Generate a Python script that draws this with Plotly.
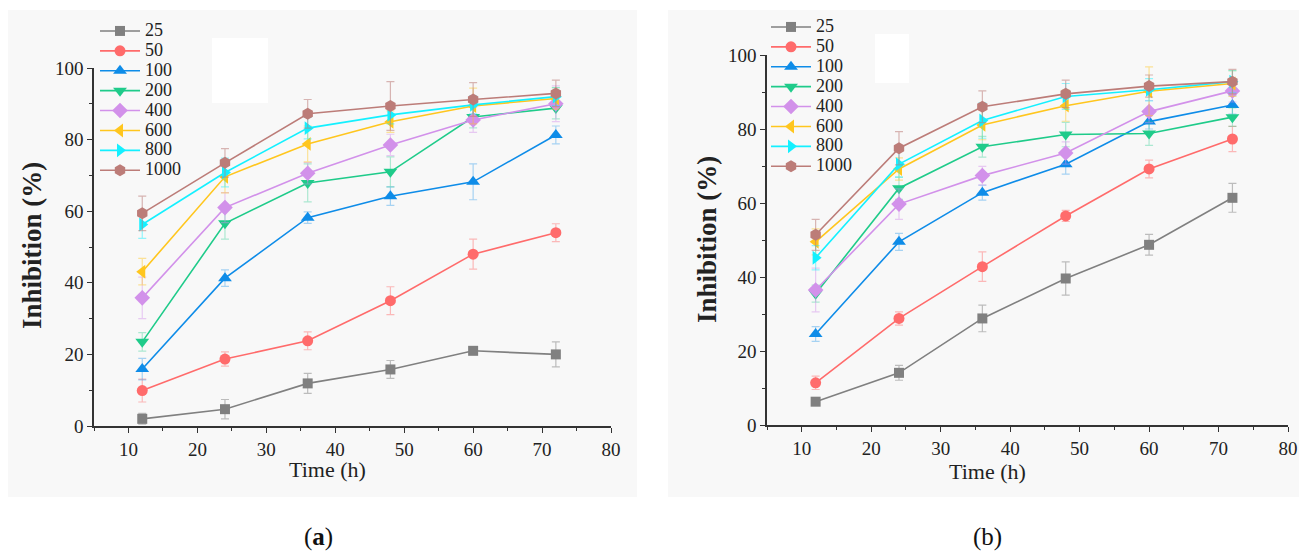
import plotly.graph_objects as go

# ---------------- data ----------------
time_h = [12, 24, 36, 48, 60, 72]
series_names = ["25", "50", "100", "200", "400", "600", "800", "1000"]

# panel (a)
a_25 = [2, 4.7, 11.9, 15.8, 21, 20]
a_50 = [9.9, 18.7, 23.8, 35, 48, 54]
a_100 = [15.9, 41.3, 58.2, 64.2, 68.2, 81.3]
a_200 = [23.5, 56.6, 67.9, 71, 86.3, 88.8]
a_400 = [35.8, 61, 70.6, 78.5, 85.5, 90]
a_600 = [43.1, 69.6, 78.8, 85, 89.4, 91.5]
a_800 = [56.3, 70.8, 83.2, 86.9, 89.7, 92]
a_1000 = [59.4, 73.5, 87.2, 89.4, 91.2, 92.9]

a_25_err = [1.5, 2.7, 2.8, 2.5, 1, 3.5]
a_50_err = [3.2, 2, 2.5, 3.9, 4.2, 2.5]
a_100_err = [3, 2.3, 1.6, 2.6, 5, 2.5]
a_200_err = [2.6, 4.4, 5.3, 4.2, 3, 3]
a_400_err = [5.8, 4.2, 3, 3, 3.5, 5]
a_600_err = [3.7, 4.5, 5, 3, 5, 3]
a_800_err = [3.9, 4, 3, 2.5, 2.5, 2.5]
a_1000_err = [4.8, 4, 4, 6.8, 4.7, 3.7]

# panel (b)
b_25 = [6.3, 14.1, 28.8, 39.6, 48.7, 61.4]
b_50 = [11.4, 28.8, 42.8, 56.5, 69.2, 77.3]
b_100 = [24.6, 49.5, 62.8, 70.5, 82, 86.5]
b_200 = [35.5, 64, 75.2, 78.5, 78.8, 83.2]
b_400 = [36.5, 59.7, 67.4, 73.5, 84.7, 90.3]
b_600 = [49.5, 69.2, 81.1, 86.3, 90.2, 92.3]
b_800 = [45.2, 70.5, 82.3, 88.8, 90.6, 92.8]
b_1000 = [51.4, 74.8, 86, 89.5, 91.6, 92.8]

b_25_err = [1, 2, 3.6, 4.5, 2.8, 3.9]
b_50_err = [1.8, 1.8, 4, 1.5, 2.4, 3.4]
b_100_err = [2, 2.3, 2, 2.7, 2, 2.5]
b_200_err = [2.3, 3, 2.8, 3.3, 3.2, 2.5]
b_400_err = [5.9, 4.1, 2.5, 3, 3, 3]
b_600_err = [3.5, 3, 4, 4.2, 6.6, 3.5]
b_800_err = [3.3, 3.5, 4.8, 3.5, 3, 3]
b_1000_err = [4.2, 4.5, 4.3, 3.7, 3, 3.3]

x_ticks = [10, 20, 30, 40, 50, 60, 70, 80]
y_ticks = [0, 20, 40, 60, 80, 100]

# ---------------- styles ----------------
colors = ["#808080", "#FF6B6B", "#0E8CE8", "#1FCB8A", "#D291EA",
          "#FFC61E", "#14F0FF", "#BC7C78"]
err_colors = ["rgba(128,128,128,0.5)", "rgba(255,107,107,0.45)",
              "rgba(14,140,232,0.35)", "rgba(31,203,138,0.35)",
              "rgba(210,145,234,0.45)", "rgba(255,198,30,0.45)",
              "rgba(20,240,255,0.45)", "rgba(188,124,120,0.55)"]
symbols = ["square", "circle", "triangle-up", "triangle-down", "diamond",
           "triangle-left", "triangle-right", "hexagon"]
sizes = [10, 11, 12, 12, 12, 12, 12, 12]

# page body has an 8px margin: figure sits at (8, 8)
OFF = 8
W, H = 1307 - OFF, 553 - OFF
SERIF = "'Liberation Serif', 'Times New Roman', Times, serif"


def px(x):
    return (x - OFF) / W


def py(y):
    return 1 - (y - OFF) / H


panel_a = [a_25, a_50, a_100, a_200, a_400, a_600, a_800, a_1000]
panel_a_err = [a_25_err, a_50_err, a_100_err, a_200_err, a_400_err,
               a_600_err, a_800_err, a_1000_err]
panel_b = [b_25, b_50, b_100, b_200, b_400, b_600, b_800, b_1000]
panel_b_err = [b_25_err, b_50_err, b_100_err, b_200_err, b_400_err,
               b_600_err, b_800_err, b_1000_err]

fig = go.Figure()

for panel, errs, xa, ya, lg in [(panel_a, panel_a_err, "x", "y", "legend"),
                                (panel_b, panel_b_err, "x2", "y2", "legend2")]:
    for i, name in enumerate(series_names):
        fig.add_trace(go.Scatter(
            x=time_h, y=panel[i], xaxis=xa, yaxis=ya, legend=lg,
            name='<span style="font-size:18px">%s</span>' % name,
            mode="lines+markers",
            line=dict(color=colors[i], width=1.6),
            marker=dict(symbol=symbols[i], size=sizes[i], color=colors[i],
                        line=dict(width=0)),
            error_y=dict(type="data", array=errs[i], visible=True,
                         color=err_colors[i], thickness=1.2, width=4),
            cliponaxis=False,
        ))

axis_common = dict(
    showline=True, linecolor="#333333", linewidth=1.5, mirror=False,
    ticks="outside", ticklen=5, tickwidth=1.3, tickcolor="#333333",
    showgrid=False, zeroline=False, automargin=False,
    tickfont=dict(family=SERIF, size=19, color="#222222"),
)


def minor(d):
    return dict(dtick=d, tick0=0, ticklen=3, ticks="outside",
                tickcolor="#333333", tickwidth=1.2)


fig.update_layout(
    width=W, height=H,
    margin=dict(l=0, r=0, t=0, b=0, pad=0),
    paper_bgcolor="white", plot_bgcolor="rgba(0,0,0,0)",
    font=dict(family=SERIF),
    showlegend=True,
    xaxis=dict(domain=[px(94), px(611)], range=[5, 80], tickvals=x_ticks,
               minor=minor(5), anchor="y", **axis_common),
    yaxis=dict(domain=[py(426), py(68)], range=[0, 100], tickvals=y_ticks,
               minor=minor(10), anchor="x", **axis_common),
    xaxis2=dict(domain=[px(767), px(1288)], range=[5, 80], tickvals=x_ticks,
                minor=minor(5), anchor="y2", **axis_common),
    yaxis2=dict(domain=[py(425), py(55)], range=[0, 100], tickvals=y_ticks,
                minor=minor(10), anchor="x2", **axis_common),
    legend=dict(x=px(95), y=py(16), xanchor="left", yanchor="top",
                bgcolor="rgba(0,0,0,0)", itemwidth=40,
                font=dict(family=SERIF, size=13, color="#222222")),
    legend2=dict(x=px(766), y=py(12), xanchor="left", yanchor="top",
                 bgcolor="rgba(0,0,0,0)", itemwidth=40,
                 font=dict(family=SERIF, size=13, color="#222222")),
    shapes=[
        dict(type="rect", xref="paper", yref="paper", layer="below",
             x0=px(7), x1=px(637), y0=py(497), y1=py(10),
             fillcolor="#F8F8F8", line=dict(width=0)),
        dict(type="rect", xref="paper", yref="paper", layer="below",
             x0=px(668), x1=px(1300), y0=py(497), y1=py(10),
             fillcolor="#F8F8F8", line=dict(width=0)),
        dict(type="rect", xref="paper", yref="paper", layer="below",
             x0=px(212), x1=px(268), y0=py(103), y1=py(38),
             fillcolor="white", line=dict(width=0)),
        dict(type="rect", xref="paper", yref="paper", layer="below",
             x0=px(875), x1=px(909), y0=py(83), y1=py(34),
             fillcolor="white", line=dict(width=0)),
    ],
)

ann_common = dict(xref="paper", yref="paper", showarrow=False,
                  xanchor="center", yanchor="middle")
fig.add_annotation(text="<b>Inhibition (%)</b>", x=px(32), y=py(246),
                   textangle=-90,
                   font=dict(family=SERIF, size=27, color="#222222"),
                   **ann_common)
fig.add_annotation(text="<b>Inhibition (%)</b>", x=px(707), y=py(240),
                   textangle=-90,
                   font=dict(family=SERIF, size=27, color="#222222"),
                   **ann_common)
fig.add_annotation(text="Time (h)", x=px(327), y=py(469),
                   font=dict(family=SERIF, size=22, color="#222222"),
                   **ann_common)
fig.add_annotation(text="Time (h)", x=px(987), y=py(471),
                   font=dict(family=SERIF, size=22, color="#222222"),
                   **ann_common)
fig.add_annotation(text="(<b>a</b>)", x=px(318), y=py(537),
                   font=dict(family=SERIF, size=25, color="#111111"),
                   **ann_common)
fig.add_annotation(text="(b)", x=px(988), y=py(537),
                   font=dict(family=SERIF, size=25, color="#111111"),
                   **ann_common)

fig.write_html("out.html")
